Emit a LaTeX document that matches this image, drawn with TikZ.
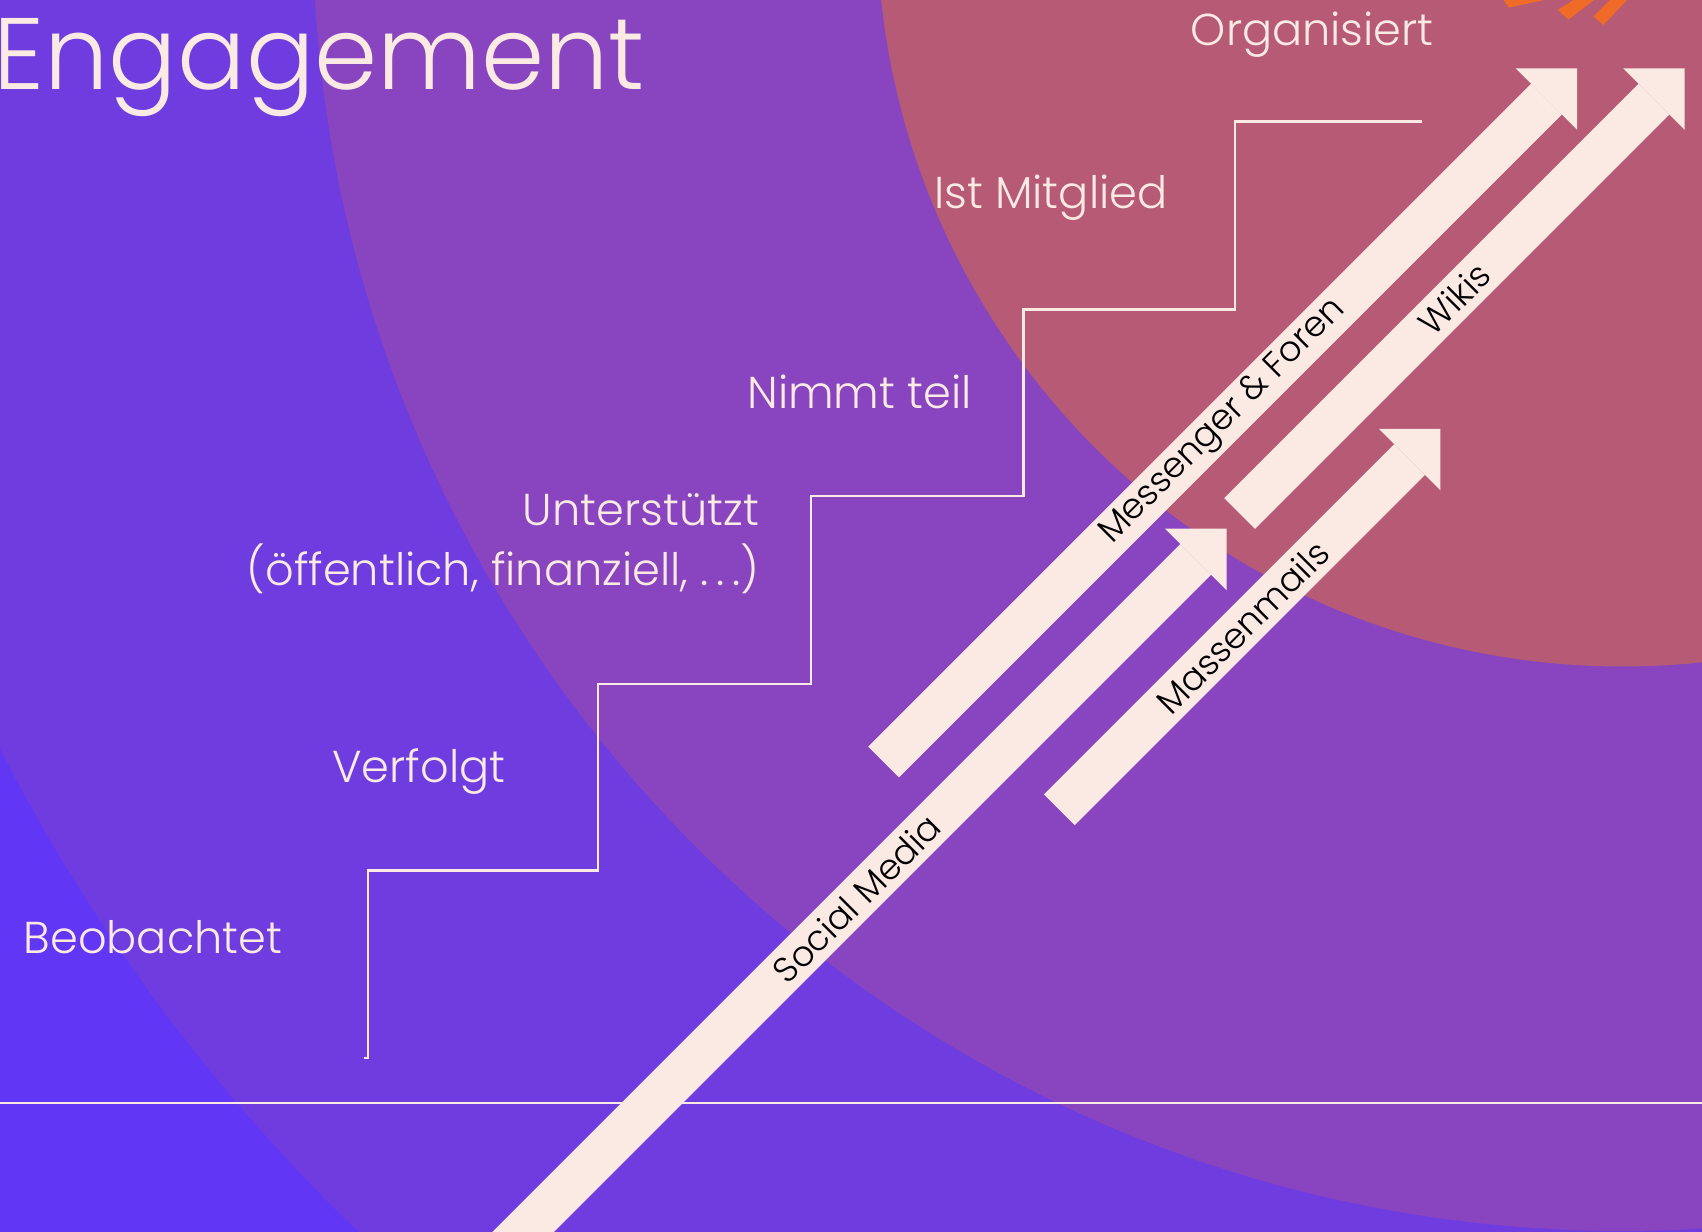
\documentclass[tikz,border=0pt]{standalone}
\usepackage{fontspec}
\setmainfont{Poppins Light}
\usetikzlibrary{arrows.meta}
\definecolor{cream}{HTML}{FBEAE4}
\definecolor{violetbase}{HTML}{6236F5}
\definecolor{violetmid}{HTML}{6F3CE0}
\definecolor{purplering}{HTML}{8845BF}
\definecolor{rosecore}{HTML}{B65A76}
\definecolor{flame}{HTML}{F06A28}

\begin{document}
\begin{tikzpicture}[x=0.01cm, y=-0.01cm,
    level/.style={text=cream, font=\fontsize{11.7}{15.5}\selectfont, inner sep=0pt},
    stairline/.style={draw=cream, line width=0.6pt},
    channel/.style={draw=cream, line width=0.4cm,
      -{Triangle[width=0.8cm,length=0.4cm,line width=0pt]}},
    channeltext/.style={text=black, font=\fontsize{9.2}{11}\selectfont, sloped, inner sep=0pt}]
  \useasboundingbox (0,0) rectangle (1568,1135);
  \begin{scope}
    \clip (0,0) rectangle (1568,1135);
    % rings
    \fill[violetbase] (0,0) rectangle (1568,1135);
    \coordinate (core) at (1495,-73);
    \fill[violetmid] (core) circle[radius=1678];
    \fill[purplering] (core) circle[radius=1207];
    \fill[rosecore] (core) circle[radius=687];
    % flame bits at the top edge
    \fill[flame] (1384,-2) -- (1390,7) -- (1432,-2) -- cycle;
    \fill[flame] (1435,9) -- (1445,18) -- (1471,-2) -- (1453,-2) -- cycle;
    \fill[flame] (1468,15) -- (1477,23) -- (1501,-2) -- (1485,-2) -- cycle;
    % ground and stairs
    \draw[stairline] (0,1016) -- (1568,1016);
    \draw[stairline] (335,975) -- (339,975) |- (551,802) |- (747,630) |- (943,457)
      |- (1138,285) |- (1310,112);
    % levels
    \node[text=cream, font=\fontsize{26.6}{26.6}\selectfont, inner sep=0pt, anchor=base east]
      (title) at (595,82) {Engagement};
    \node[level, anchor=base] (watch) at (141,878) {Beobachtet};
    \node[level, anchor=base] (follow) at (386,721) {Verfolgt};
    \node[level, anchor=base east, align=right] (support) at (700,539)
      {Unterstützt\\(öffentlich, finanziell, .\kern2pt.\kern2pt.)};
    \node[level, anchor=base] (join) at (792,376) {Nimmt teil};
    \node[level, anchor=base] (member) at (968,192) {Ist Mitglied};
    \node[level, anchor=base] (organise) at (1209,42) {Organisiert};
    % channels
    \coordinate (social-tail) at (430,1187);
    \coordinate (social-tip) at (1130,487);
    \coordinate (forum-tail) at (814,702);
    \coordinate (forum-tip) at (1453,63);
    \coordinate (mail-tail) at (976,746);
    \coordinate (mail-tip) at (1327,395);
    \coordinate (wiki-tail) at (1142,473);
    \coordinate (wiki-tip) at (1552,63);
    \draw[channel] (social-tail) -- (social-tip) node[channeltext, pos=0.513] {Social Media};
    \draw[channel] (forum-tail) -- (forum-tip) node[channeltext, pos=0.49] {Messenger \& Foren};
    \draw[channel] (mail-tail) -- (mail-tip) node[channeltext, pos=0.48] {Massenmails};
    \draw[channel] (wiki-tail) -- (wiki-tip) node[channeltext, pos=0.483] {Wikis};
  \end{scope}
\end{tikzpicture}
\end{document}
